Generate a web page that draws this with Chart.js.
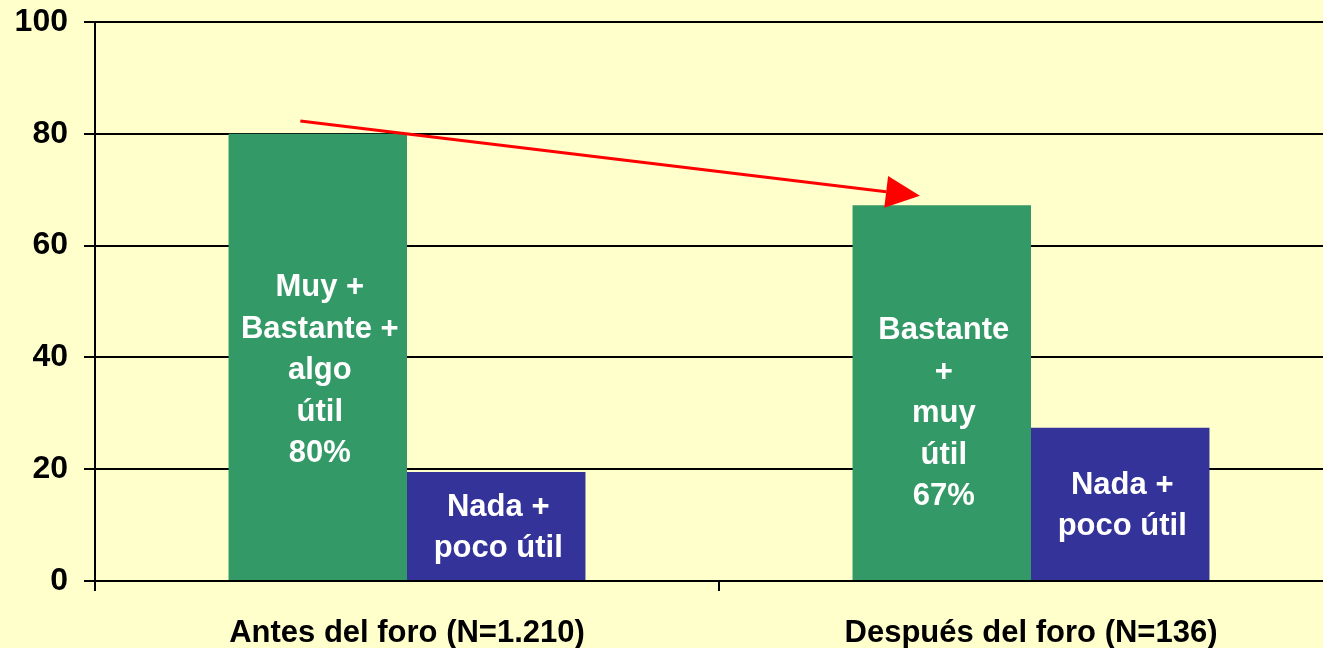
<!DOCTYPE html>
<html>
<head>
<meta charset="utf-8">
<script src="https://cdn.jsdelivr.net/npm/chart.js@4.4.1/dist/chart.umd.min.js"></script>
<style>
  html, body { margin: 0; padding: 0; background: #FFFFCC; overflow: hidden; }
  #wrap { width: 1343px; height: 648px; }
</style>
</head>
<body>
<div id="wrap"><canvas id="chart" width="1343" height="648"></canvas></div>
<script>
/* Utilidad percibida antes / después del foro */
const FONT = 'Arial, "Liberation Sans", sans-serif';
const GREEN = '#339966';
const BLUE = '#333399';

const categories = ['Antes del foro (N=1.210)', 'Después del foro (N=136)'];
const utilValues = [80, 67.2];
const nadaValues = [19.5, 27.4];
const utilLabels = [['Muy +', 'Bastante +', 'algo', 'útil', '80%'], ['Bastante', '+', 'muy', 'útil', '67%']];
const nadaLabels = [['Nada +', 'poco útil'], ['Nada +', 'poco útil']];
const yTicks = [0, 20, 40, 60, 80, 100];
// flecha de tendencia en unidades de datos: [índice de categoría, valor]
const arrowFrom = [-0.171, 82.3];
const arrowTo = [0.822, 68.9];

const barText = {
    id: 'barText',
    afterDatasetsDraw(chart) {
        const ctx = chart.ctx;
        const sets = [utilLabels, nadaLabels];
        const shift = [[14, 21], [2, 2]];
        ctx.save();
        ctx.fillStyle = '#ffffff';
        ctx.font = 'bold 31px ' + FONT;
        ctx.textAlign = 'center';
        ctx.textBaseline = 'middle';
        sets.forEach((labels, di) => {
            chart.getDatasetMeta(di).data.forEach((el, i) => {
                const lines = labels[i];
                const lh = 41.5;
                const mid = (el.y + el.base) / 2 + shift[di][i];
                const top = mid - (lines.length - 1) * lh / 2;
                lines.forEach((t, k) => ctx.fillText(t, el.x + 2, top + k * lh));
            });
        });
        ctx.restore();
    },
};

const trendArrow = {
    id: 'trendArrow',
    afterDatasetsDraw(chart) {
        const { ctx, scales: { x, y } } = chart;
        const x0 = x.getPixelForValue(arrowFrom[0]);
        const y0 = y.getPixelForValue(arrowFrom[1]);
        const x1 = x.getPixelForValue(arrowTo[0]);
        const y1 = y.getPixelForValue(arrowTo[1]);
        const ang = Math.atan2(y1 - y0, x1 - x0);
        const headLen = 34;
        const headHalf = 16;
        const bx = x1 - Math.cos(ang) * headLen;
        const by = y1 - Math.sin(ang) * headLen;
        ctx.save();
        ctx.strokeStyle = '#FF0000';
        ctx.fillStyle = '#FF0000';
        ctx.lineWidth = 3;
        ctx.beginPath();
        ctx.moveTo(x0, y0);
        ctx.lineTo(bx, by);
        ctx.stroke();
        ctx.beginPath();
        ctx.moveTo(x1, y1);
        ctx.lineTo(bx - Math.sin(ang) * headHalf, by + Math.cos(ang) * headHalf);
        ctx.lineTo(bx + Math.sin(ang) * headHalf, by - Math.cos(ang) * headHalf);
        ctx.closePath();
        ctx.fill();
        ctx.restore();
    },
};

new Chart(document.getElementById('chart'), {
    type: 'bar',
    data: {
        labels: categories,
        datasets: [
            { label: 'útil', data: utilValues, backgroundColor: GREEN },
            { label: 'Nada + poco útil', data: nadaValues, backgroundColor: BLUE },
        ],
    },
    options: {
        responsive: false,
        animation: false,
        devicePixelRatio: 1,
        datasets: { bar: { categoryPercentage: 0.572, barPercentage: 1 } },
        layout: { padding: { top: 22, left: 0, right: 0, bottom: 0 } },
        plugins: { legend: { display: false }, tooltip: { enabled: false } },
        scales: {
            x: {
                afterFit: (s) => { s.height = 67; s.paddingLeft = 0; s.paddingRight = 0; },
                grid: { drawOnChartArea: false, drawTicks: true, tickLength: 10, color: '#000', lineWidth: 2 },
                border: { display: true, color: '#000', width: 2 },
                ticks: { color: '#000', font: { family: FONT, size: 31, weight: 'bold' }, padding: 24 },
            },
            y: {
                min: 0,
                max: 100,
                afterFit: (s) => { s.width = 95; s.paddingTop = 0; s.paddingBottom = 0; },
                afterBuildTicks: (s) => { s.ticks = yTicks.map((v) => ({ value: v })); },
                grid: { color: '#000', lineWidth: 2, tickLength: 11 },
                border: { display: true, color: '#000', width: 2 },
                ticks: { color: '#000', font: { family: FONT, size: 32, weight: 'bold' }, padding: 16 },
            },
        },
    },
    plugins: [barText, trendArrow],
});
</script>
</body>
</html>
